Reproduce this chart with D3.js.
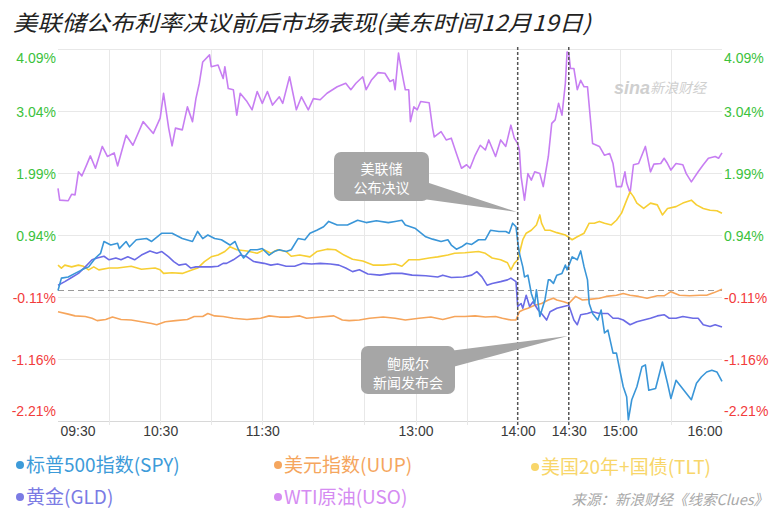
<!DOCTYPE html>
<html><head><meta charset="utf-8">
<script src="https://cdn.jsdelivr.net/npm/d3@7"></script>
<style>body{margin:0;background:#fff;} svg{display:block;}</style>
</head><body><svg id="c" width="781" height="517"></svg>
<script>
// ---------- data ----------
const title = "美联储公布利率决议前后市场表现(美东时间12月19日)";
const yTicks = [4.09, 3.04, 1.99, 0.94, -0.11, -1.16, -2.21];
const xLabels = ["09:30", "10:30", "11:30", "13:00", "14:00", "14:30", "15:00", "16:00"];
const gridTimes = ["10:00","10:30","11:00","11:30","12:00","12:30","13:00","13:30","14:00","14:30","15:00","15:30"];
const eventTimes = ["14:00", "14:30"];
const seriesNames = ["标普500指数(SPY)", "美元指数(UUP)", "美国20年+国债(TLT)", "黄金(GLD)", "WTI原油(USO)"];
const source = "来源：新浪财经《线索Clues》";
const callout1 = ["美联储", "公布决议"];
const callout2 = ["鲍威尔", "新闻发布会"];

// minutes after 09:30 and % change
const spyT = [0,2,6,10,14,18,22,25,27,31,35,36,40,42,46,52,55,61,67,73,79,82,85,88,92,96,101,104,106,109,113,117,120,124,127,130,134,137,141,145,148,152,156,159,164,170,176,181,187,194,198,202,204,210,216,220,225,229,231,234,237,240,243,247,251,254,259,263,265,267,269,270,271,273,274,276,278,280,281,283,286,288,289,291,293,296,298,299,302,305,307,309,311,312,314,317,319,321,323,326,328,330,332,334,335,337,340,343,345,347,351,355,358,360,363,366,369,372,375,378,381,384,387,390];
const spyV = [0,0.21,0.23,0.29,0.35,0.40,0.55,0.63,0.83,0.77,0.80,0.71,0.83,0.74,0.86,0.88,0.83,0.97,0.97,0.88,0.83,1.00,0.88,0.94,0.88,0.86,0.77,0.83,0.69,0.55,0.69,0.69,0.71,0.60,0.66,0.69,0.66,0.69,0.88,0.86,0.97,1.02,1.08,1.17,1.11,1.11,1.19,1.15,1.18,1.15,1.17,1.19,1.11,1.05,0.91,0.87,0.83,0.86,0.77,0.70,0.74,0.80,0.78,0.86,0.86,1.02,1.00,1.00,0.97,1.14,1.08,0.83,0.63,0.40,0.23,0.26,-0.05,-0.22,0.01,-0.44,-0.16,0.18,0.18,0.12,0.26,0.29,0.43,0.35,0.57,0.52,0.67,0.40,0.18,-0.22,-0.39,-0.50,-0.33,-0.72,-0.67,-1.06,-1.06,-1.35,-1.63,-1.80,-2.19,-1.85,-1.63,-1.29,-1.26,-1.69,-1.66,-1.21,-1.57,-1.83,-1.52,-1.63,-1.74,-1.85,-1.57,-1.46,-1.38,-1.35,-1.38,-1.54];

const uupT = [0,6,10,16,20,23,28,32,37,43,49,55,58,63,69,76,80,85,88,92,97,103,111,119,124,130,136,142,146,154,162,167,171,177,183,191,198,204,212,219,226,233,239,245,251,257,261,266,269,271,273,276,280,284,288,291,293,297,300,304,308,312,318,322,328,332,336,341,346,352,356,360,365,371,377,381,385,390];
const uupV = [-0.36,-0.40,-0.43,-0.44,-0.47,-0.51,-0.49,-0.45,-0.49,-0.50,-0.53,-0.56,-0.58,-0.53,-0.51,-0.49,-0.44,-0.44,-0.39,-0.43,-0.44,-0.47,-0.49,-0.47,-0.43,-0.45,-0.45,-0.43,-0.47,-0.45,-0.43,-0.50,-0.51,-0.50,-0.47,-0.45,-0.47,-0.50,-0.47,-0.45,-0.49,-0.44,-0.44,-0.43,-0.45,-0.44,-0.47,-0.50,-0.50,-0.36,-0.33,-0.30,-0.25,-0.22,-0.16,-0.13,-0.16,-0.19,-0.22,-0.10,-0.16,-0.15,-0.13,-0.10,-0.08,-0.05,-0.08,-0.10,-0.13,-0.09,-0.09,-0.02,-0.08,-0.09,-0.08,-0.08,-0.04,0.02];

const tltT = [0,2,4,8,12,15,18,21,24,30,35,43,49,57,60,62,67,73,79,82,86,90,94,98,101,105,111,117,121,125,129,134,137,142,148,152,158,163,168,173,179,185,191,198,202,206,212,218,223,229,233,239,247,251,255,260,264,266,268,270,271,273,275,278,281,283,284,286,289,293,298,302,305,309,312,315,318,321,325,328,331,334,336,338,340,344,348,352,355,358,363,367,372,375,379,383,387,390];
const tltV = [0.43,0.38,0.43,0.40,0.43,0.41,0.35,0.40,0.35,0.38,0.38,0.41,0.36,0.38,0.35,0.29,0.30,0.29,0.35,0.38,0.49,0.57,0.60,0.66,0.74,0.69,0.67,0.63,0.69,0.63,0.69,0.66,0.58,0.60,0.57,0.66,0.70,0.69,0.60,0.53,0.50,0.43,0.43,0.45,0.41,0.52,0.52,0.55,0.57,0.60,0.63,0.64,0.66,0.63,0.55,0.52,0.47,0.35,0.46,0.52,0.63,0.86,0.97,1.02,1.11,1.28,1.14,1.02,1.02,0.98,0.94,0.86,0.91,0.97,1.14,1.14,1.17,1.14,1.11,1.19,1.31,1.53,1.67,1.59,1.48,1.39,1.48,1.45,1.28,1.39,1.42,1.48,1.53,1.45,1.39,1.36,1.35,1.31];

const gldT = [0,4,8,12,16,20,23,27,30,34,37,41,45,49,54,58,61,65,68,71,75,78,81,90,94,97,99,103,107,111,115,121,125,129,134,139,144,149,154,160,165,169,173,177,182,189,196,202,208,216,223,226,231,238,243,246,249,252,255,260,264,266,269,270,272,273,275,277,279,282,284,287,289,293,297,300,301,303,305,307,311,314,318,323,326,329,332,336,340,344,348,352,356,359,363,367,373,376,379,383,386,390];
const gldV = [0.09,0.15,0.22,0.29,0.40,0.52,0.55,0.58,0.52,0.55,0.52,0.57,0.52,0.60,0.67,0.63,0.66,0.57,0.49,0.43,0.45,0.38,0.40,0.40,0.41,0.46,0.46,0.52,0.60,0.57,0.49,0.46,0.43,0.45,0.41,0.41,0.46,0.45,0.46,0.45,0.43,0.38,0.32,0.35,0.28,0.26,0.29,0.29,0.26,0.25,0.23,0.26,0.22,0.23,0.26,0.32,0.23,0.09,0.12,0.15,0.18,0.21,0.15,-0.27,-0.22,-0.30,-0.08,-0.27,-0.19,-0.33,-0.39,-0.50,-0.36,-0.30,-0.27,-0.25,-0.33,-0.50,-0.58,-0.41,-0.39,-0.36,-0.39,-0.39,-0.47,-0.47,-0.50,-0.58,-0.53,-0.50,-0.47,-0.43,-0.41,-0.47,-0.47,-0.44,-0.47,-0.47,-0.58,-0.61,-0.58,-0.62];

const usoT = [0,1,6,8,10,12,14,17,19,22,26,29,33,35,40,44,50,56,60,62,65,67,69,73,76,79,81,83,85,89,90,94,97,98,100,103,105,107,111,114,117,120,123,126,130,132,136,138,140,143,147,150,154,158,164,169,172,175,179,181,184,188,192,195,197,198,200,201,203,204,206,207,209,211,213,218,220,221,225,228,231,234,237,240,242,245,248,251,253,257,260,263,266,268,270,271,272,274,276,278,280,283,285,288,290,292,294,296,298,299,300,301,303,305,307,309,311,314,318,321,324,326,328,331,333,334,336,338,341,345,348,350,354,356,358,360,363,367,369,372,376,379,382,386,388,390];
const usoV = [1.73,1.53,1.52,1.63,1.62,2.01,1.94,2.14,2.28,2.07,2.44,2.27,2.33,2.11,2.63,2.46,2.86,2.66,2.92,3.34,2.75,2.45,2.75,2.72,3.11,2.86,3.25,3.51,3.87,3.99,3.79,3.82,3.59,3.79,3.42,3.40,2.97,3.34,3.20,3.06,3.37,3.17,3.37,3.14,3.28,3.17,3.62,3.34,3.06,3.28,3.06,3.25,3.23,3.34,3.45,3.51,3.40,3.51,3.62,3.40,3.56,3.69,3.68,3.54,3.57,3.40,4.02,3.85,3.54,3.40,3.40,2.86,3.11,3.06,3.20,3.18,2.75,2.60,2.69,2.55,2.58,2.32,2.07,2.13,2.07,2.29,2.46,2.38,2.55,2.27,2.55,2.44,2.80,2.58,2.49,2.38,1.93,1.53,1.98,1.87,2.01,1.98,1.76,2.27,2.83,2.89,3.17,2.97,3.51,4.04,4.02,3.76,3.76,3.40,3.56,3.45,3.45,2.49,2.44,2.29,2.32,2.15,1.76,1.76,2.01,1.82,1.65,2.13,2.15,2.44,2.01,2.14,2.15,2.24,2.15,2.04,2.15,2.13,1.98,1.84,2.01,2.13,2.24,2.27,2.24,2.33];

const lineColors = ["#3a96d8", "#f6a55b", "#f7cf34", "#6b6be6", "#c77ef2"];
const legendColors = ["#3d9bd9", "#f5a65e", "#f8d66a", "#7b7be4", "#d58cf2"];

// ---------- chart ----------
const svg = d3.select("#c");
const parse = d3.timeParse("%H:%M");
const t0 = parse("09:30");
const toDate = m => new Date(t0.getTime() + m * 60000);
const x = d3.scaleTime().domain([parse("09:30"), parse("16:00")]).range([58, 722]);
const y = d3.scaleLinear().domain([-2.21, 4.09]).range([421, 49]);

// title
svg.append("text").attr("x", 13).attr("y", 31)
  .attr("font-family", "'Noto Sans CJK SC', sans-serif").attr("font-size", 22)
  .attr("font-style", "italic").attr("fill", "#222")
  .attr("textLength", 578).attr("lengthAdjust", "spacingAndGlyphs")
  .text(title);

// horizontal grid
svg.append("g").selectAll("line").data(yTicks).join("line")
  .attr("x1", 58).attr("x2", 722)
  .attr("y1", d => Math.round(y(d)) + 0.5).attr("y2", d => Math.round(y(d)) + 0.5)
  .attr("stroke", d => d === -2.21 ? "#d8d8d8" : "#e8e8e8").attr("stroke-width", 1);

// vertical grid
svg.append("g").selectAll("line").data(gridTimes.filter(t => !eventTimes.includes(t))).join("line")
  .attr("x1", d => Math.round(x(parse(d))) + 0.5).attr("x2", d => Math.round(x(parse(d))) + 0.5)
  .attr("y1", 49).attr("y2", 425)
  .attr("stroke", "#e8e8e8").attr("stroke-width", 1);

// zero line
svg.append("line").attr("x1", 58).attr("x2", 722)
  .attr("y1", y(0)).attr("y2", y(0))
  .attr("stroke", "#9a9a9a").attr("stroke-width", 1.2).attr("stroke-dasharray", "6,4");

// watermark
const wm = svg.append("g").attr("fill", "#cfcfcf").attr("font-style", "italic");
wm.append("text").attr("x", 614).attr("y", 94)
  .attr("font-family", "'Liberation Sans', Arial, sans-serif").attr("font-weight", "bold")
  .attr("font-size", 18).text("sina");
wm.append("text").attr("x", 650).attr("y", 93)
  .attr("font-family", "'Noto Sans CJK SC', sans-serif").attr("font-size", 14).text("新浪财经");

// series lines
const series = [[spyT, spyV], [uupT, uupV], [tltT, tltV], [gldT, gldV], [usoT, usoV]];
const line = d3.line().x(d => x(toDate(d[0]))).y(d => y(d[1]));
const drawOrder = [4, 2, 1, 3, 0];
drawOrder.forEach(i => {
  const [T, V] = series[i];
  const pts = T.map((t, k) => [t, V[k]]);
  svg.append("path").datum(pts).attr("d", line)
    .attr("fill", "none").attr("stroke", lineColors[i])
    .attr("stroke-width", 1.6).attr("stroke-linejoin", "round");
});

// event lines
svg.append("g").selectAll("line").data(eventTimes).join("line")
  .attr("x1", d => x(parse(d))).attr("x2", d => x(parse(d)))
  .attr("y1", 47).attr("y2", 426)
  .attr("stroke", "#555").attr("stroke-width", 1.5).attr("stroke-dasharray", "3,2");

// y axes labels
const fmt = d => d.toFixed(2) + "%";
const yLab = d => y(d) + (d === yTicks[0] ? 9 : d === yTicks[yTicks.length - 1] ? -10 : 1);
const axisFont = "'Liberation Sans', Arial, sans-serif";
[[56, "end"], [724, "start"]].forEach(([xx, anchor]) => {
  svg.append("g").selectAll("text").data(yTicks).join("text")
    .attr("x", xx).attr("y", yLab).attr("dy", "0.35em")
    .attr("text-anchor", anchor).attr("font-family", axisFont).attr("font-size", 14)
    .attr("fill", d => d >= 0 ? "#3cc23c" : "#f23c3c").text(fmt);
});

// x axis labels
const xa = svg.append("g").attr("transform", "translate(0,421)")
  .call(d3.axisBottom(x).tickValues(xLabels.map(parse)).tickSize(0).tickPadding(5)
    .tickFormat(d3.timeFormat("%H:%M")));
xa.select(".domain").remove();
xa.selectAll("text").attr("font-family", axisFont).attr("font-size", 14).attr("fill", "#3a3a3a");
xa.selectAll("text").filter((d, i) => i === 0).attr("text-anchor", "start").attr("dx", 2);
xa.selectAll("text").filter((d, i) => i === xLabels.length - 1).attr("text-anchor", "end");

// callouts
function callout(box, tip, lines, baseY) {
  const g = svg.append("g");
  const [bx, by, bw, bh] = box;
  g.append("path").attr("d", `M${bx + bw - 6},${tip[2]} L${tip[0]},${tip[1]} L${bx + bw - 6},${tip[3]} Z`)
    .attr("fill", "#a6a6a6");
  g.append("rect").attr("x", bx).attr("y", by).attr("width", bw).attr("height", bh)
    .attr("rx", 7).attr("fill", "#a6a6a6");
  lines.forEach((s, i) => g.append("text").attr("x", bx + bw / 2).attr("y", baseY + i * 18.5)
    .attr("text-anchor", "middle").attr("font-family", "'Noto Sans CJK SC', sans-serif")
    .attr("font-size", 14).attr("fill", "#fff").text(s));
}
callout([334, 152, 95, 49], [x(parse("14:00")) - 1, y(1.33), 181, 199], callout1, 174);
callout([361, 346, 94, 48], [x(parse("14:30")) - 1, y(-0.77), 351, 368], callout2, 369);

// legend
const legPos = [[15, 465], [273, 465], [530, 467], [15, 497], [273, 497]];
seriesNames.forEach((name, i) => {
  const [lx, ly] = legPos[i];
  svg.append("circle").attr("cx", lx + 5).attr("cy", ly).attr("r", 4).attr("fill", legendColors[i]);
  svg.append("text").attr("x", lx + 11).attr("y", ly).attr("dy", "0.36em")
    .attr("font-family", "'Noto Sans CJK SC', sans-serif").attr("font-size", 19)
    .attr("fill", legendColors[i]).text(name);
});

// source
svg.append("text").attr("x", 768).attr("y", 505).attr("text-anchor", "end")
  .attr("font-family", "'Noto Sans CJK SC', sans-serif").attr("font-size", 14.5)
  .attr("font-style", "italic").attr("fill", "#a8a8a8").text(source);
</script></body></html>
